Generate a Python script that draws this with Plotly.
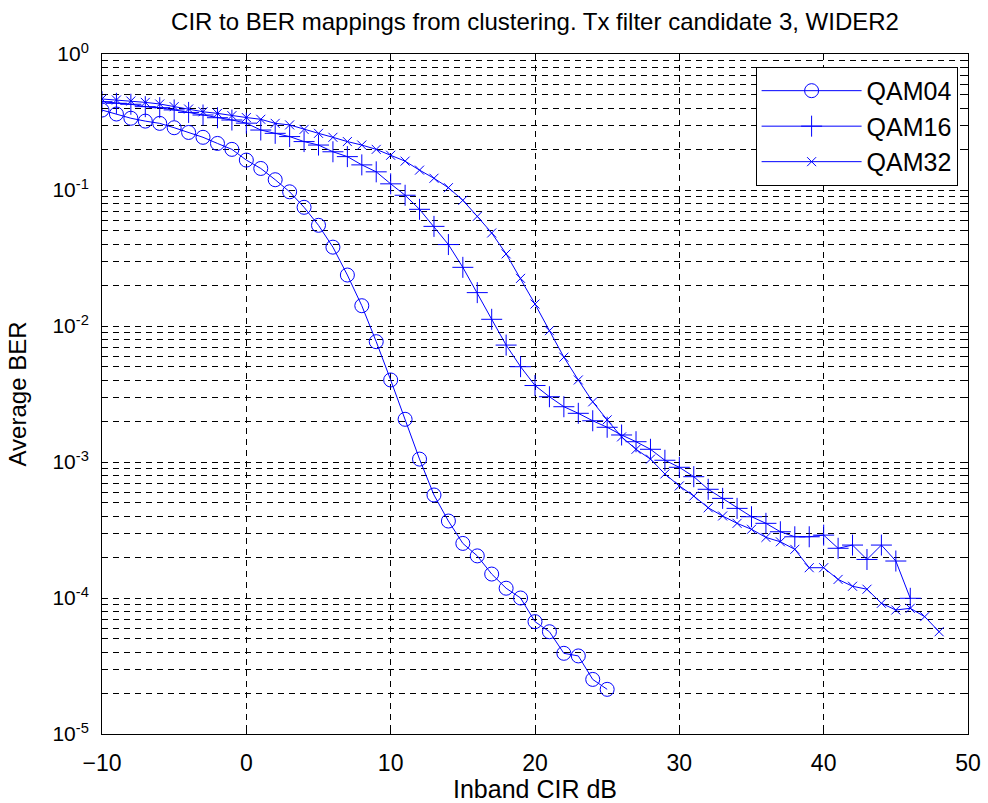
import plotly.graph_objects as go

# Inband CIR (dB) sample points
cir_qam04 = list(range(-10, 26))
cir_qam16 = list(range(-10, 47))
cir_qam32 = list(range(-10, 49))

ber_qam04 = [0.387, 0.362, 0.337, 0.321, 0.309, 0.287, 0.265, 0.244, 0.220, 0.199,
             0.166, 0.144, 0.119, 0.097, 0.0746, 0.055, 0.038, 0.0237, 0.0141, 0.00767,
             0.00401, 0.00206, 0.00105, 0.000572, 0.000368, 0.000252, 0.000204, 0.00015, 0.000118, 0.0001,
             6.7e-5, 5.65e-5, 3.92e-5, 3.75e-5, 2.52e-5, 2.13e-5]

ber_qam16 = [0.446, 0.434, 0.427, 0.410, 0.403, 0.388, 0.372, 0.356, 0.340, 0.327,
             0.310, 0.276, 0.261, 0.247, 0.227, 0.214, 0.191, 0.176, 0.153, 0.136,
             0.111, 0.0915, 0.0721, 0.054, 0.0397, 0.027, 0.0176, 0.0112, 0.00724, 0.00502,
             0.00365, 0.00302, 0.00255, 0.00228, 0.00201, 0.0018, 0.00158, 0.00141, 0.00124, 0.00103,
             0.000914, 0.00078, 0.00063, 0.00054, 0.000456, 0.000396, 0.000354, 0.000307, 0.000282, 0.000282,
             0.00029, 0.000232, 0.000245, 0.000192, 0.000245, 0.000187, 9.95e-5]

ber_qam32 = [0.467, 0.459, 0.451, 0.441, 0.429, 0.410, 0.394, 0.376, 0.366, 0.352,
             0.341, 0.331, 0.309, 0.301, 0.279, 0.261, 0.244, 0.227, 0.214, 0.199,
             0.18, 0.163, 0.140, 0.122, 0.104, 0.084, 0.064, 0.0483, 0.0339, 0.0224,
             0.0145, 0.00924, 0.0059, 0.00401, 0.00277, 0.00204, 0.00153, 0.00124, 0.00105, 0.000817,
             0.000667, 0.000562, 0.000461, 0.000401, 0.000354, 0.00032, 0.000279, 0.000259, 0.000228, 0.000167,
             0.000167, 0.000137, 0.000122, 0.000116, 9.14e-5, 8.16e-5, 8.4e-5, 7.29e-5, 5.65e-5]

x_ticks = [-10, 0, 10, 20, 30, 40, 50]
y_ticks = [1, 0.1, 0.01, 0.001, 0.0001, 0.00001]
y_ticktext = ["10<sup>0</sup>", "10<sup>-1</sup>", "10<sup>-2</sup>",
              "10<sup>-3</sup>", "10<sup>-4</sup>", "10<sup>-5</sup>"]

BLUE = "rgb(0,0,255)"
FONT = "Liberation Sans, Arial, sans-serif"
DASH = "6px,5px"

fig = go.Figure()
series = [
    ("QAM04", cir_qam04, ber_qam04, "circle-open", 14),
    ("QAM16", cir_qam16, ber_qam16, "cross-thin-open", 15),
    ("QAM32", cir_qam32, ber_qam32, "x-thin-open", 9),
]
for name, xs, ys, sym, size in series:
    fig.add_trace(go.Scatter(
        x=xs, y=ys, name=name, mode="lines+markers", legendgroup=name,
        line=dict(color=BLUE, width=1),
        marker=dict(symbol=sym, size=size, color=BLUE, line=dict(color=BLUE, width=1)),
    ))

axis_common = dict(
    showline=True, linecolor="black", linewidth=1, mirror="allticks",
    ticks="inside", ticklen=6, tickcolor="black",
    showgrid=True, gridcolor="black", gridwidth=1, griddash=DASH,
    zeroline=False, automargin=False, ticklabeloverflow="allow",
)

fig.update_xaxes(
    range=[-10, 50], tickvals=x_ticks,
    tickfont=dict(family=FONT, size=23, color="black"), ticklabelstandoff=8,
    title=dict(text="Inband CIR dB", font=dict(family=FONT, size=25, color="black"), standoff=13),
    **axis_common,
)
fig.update_yaxes(
    type="log", range=[-5, 0], tickvals=y_ticks, ticktext=y_ticktext,
    tickfont=dict(family=FONT, size=21, color="black"), ticklabelstandoff=8,
    minor=dict(dtick="D1", ticks="inside", ticklen=4, tickcolor="black",
               showgrid=True, gridcolor="black", gridwidth=1, griddash=DASH),
    title=dict(text="Average BER", font=dict(family=FONT, size=24, color="black"), standoff=18),
    **axis_common,
)

fig.update_layout(
    width=988, height=803,
    margin=dict(l=102, r=20, t=54, b=69),
    paper_bgcolor="white", plot_bgcolor="white",
    font=dict(family=FONT, color="black"),
    title=dict(text="CIR to BER mappings from clustering. Tx filter candidate 3, WIDER2",
               font=dict(family=FONT, size=24, color="black"),
               xref="paper", x=0.5, xanchor="center", y=0.973, yanchor="middle"),
    legend=dict(x=0.988, y=0.981, xanchor="right", yanchor="top",
                bgcolor="white", bordercolor="black", borderwidth=1,
                font=dict(family=FONT, size=25, color="black"),
                tracegroupgap=0, itemwidth=100),
    showlegend=True,
)

# drop the page's default 8px body margin so the figure fills the window
fig.write_html("out.html", config={"displayModeBar": False},
               post_script="document.body.style.margin='0px';")
